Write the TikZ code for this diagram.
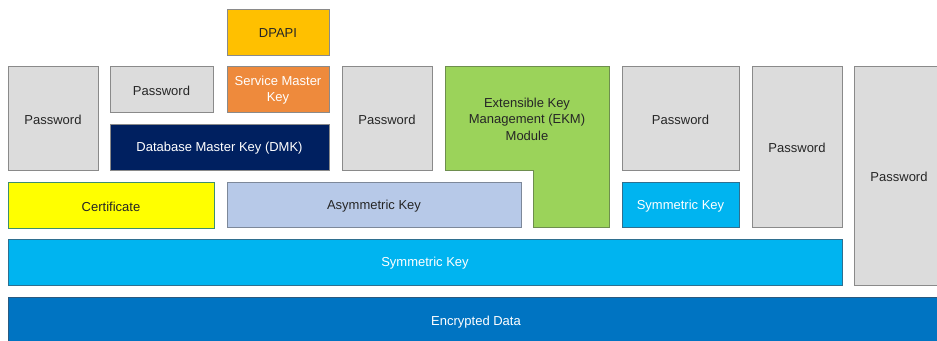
\documentclass[tikz,border=0pt]{standalone}
\usepackage{fontspec}
\setmainfont{Liberation Sans}
\definecolor{pwfill}{HTML}{DCDCDC}
\definecolor{pwline}{HTML}{8A8A8A}
\definecolor{dpapifill}{HTML}{FFC000}
\definecolor{smkfill}{HTML}{EE8A3C}
\definecolor{dmkfill}{HTML}{002060}
\definecolor{ekmfill}{HTML}{9BD35A}
\definecolor{ekmline}{HTML}{6E8E4E}
\definecolor{certfill}{HTML}{FFFF00}
\definecolor{certline}{HTML}{3E8E6E}
\definecolor{asymfill}{HTML}{B7C9E8}
\definecolor{asymline}{HTML}{7D8899}
\definecolor{symfill}{HTML}{00B4F0}
\definecolor{symline}{HTML}{2F6F8F}
\definecolor{encfill}{HTML}{0074C2}
\definecolor{encline}{HTML}{2A5A80}
% a box from (x1,y1) to (x2,y2), named, with its own style and text
\newcommand\keybox[7]{%
  \node[keyboxbase,#6,minimum width={(#4-#2)*1pt},minimum height={(#5-#3)*1pt},
    label={[#6,boxtext]center:#7}]
    (#1) at ({(#2+#4)/2},{(#3+#5)/2}) {};}
\begin{document}
\begin{tikzpicture}[x=1pt,y=-1pt,
  keyboxbase/.style={draw,line width=0.9pt,inner sep=0pt},
  boxtext/.style={draw=none,fill=none,inner sep=0pt,yshift=-1.5pt,align=center,
    font=\fontsize{13}{16}\selectfont},
  pw/.style={fill=pwfill,draw=pwline,text=black!85},
  dpapi/.style={fill=dpapifill,draw=pwline,text=black!85},
  smk/.style={fill=smkfill,draw=pwline,text=white},
  dmk/.style={fill=dmkfill,draw=pwline,text=white},
  cert/.style={fill=certfill,draw=certline,text=black!85},
  asym/.style={fill=asymfill,draw=asymline,text=black!85},
  sym/.style={fill=symfill,draw=symline,text=white},
  enc/.style={fill=encfill,draw=encline,text=white},
  ekm/.style={fill=ekmfill,draw=ekmline,line width=0.9pt}]
\useasboundingbox (0,0) rectangle (937,340);
\clip (0,0) rectangle (937,340);
\fill[white] (0,0) rectangle (937,340);

% top row
\keybox{dpapi}{227}{9}{329}{55}{dpapi}{DPAPI}
\keybox{pwa}{8}{66}{98}{170}{pw}{Password}
\keybox{pwb}{110}{66}{213}{112}{pw}{Password}
\keybox{smk}{227}{66}{329}{112}{smk}{Service Master\\Key}
\keybox{dmk}{110}{124}{329}{170}{dmk}{Database Master Key (DMK)}
\keybox{pwc}{342}{66}{432}{170}{pw}{Password}

% EKM module, L-shaped
\draw[ekm] (445,66) -- (609,66) -- (609,227) -- (533,227) -- (533,170)
  -- (445,170) -- cycle;
\node[align=center,font=\fontsize{13}{16.5}\selectfont,text=black!85] (ekm)
  at (527,119) {Extensible Key\\Management (EKM)\\Module};

\keybox{pwd}{622}{66}{739}{170}{pw}{Password}
\keybox{pwe}{752}{66}{842}{227}{pw}{Password}
\keybox{pwf}{854}{66}{944}{285}{pw}{Password}

% second row
\keybox{cert}{8}{182}{214}{228}{cert}{Certificate}
\keybox{asym}{227}{182}{521}{227}{asym}{Asymmetric Key}
\keybox{symsmall}{622}{182}{739}{227}{sym}{Symmetric Key}

% bottom layers
\keybox{sym}{8}{239}{842}{285}{sym}{Symmetric Key}
\keybox{enc}{8}{297}{944}{345}{enc}{Encrypted Data}
\end{tikzpicture}
\end{document}
